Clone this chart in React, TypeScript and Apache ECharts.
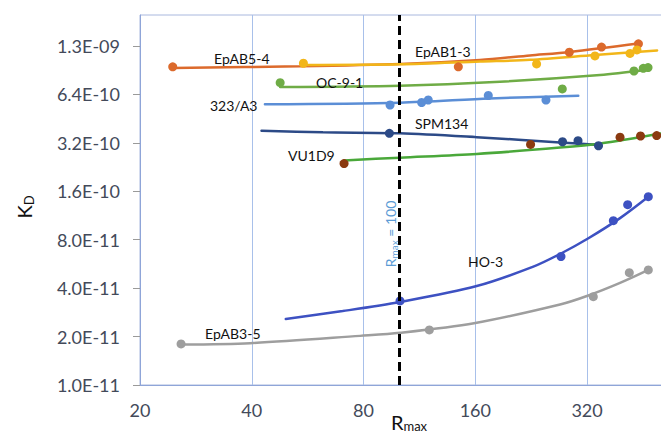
import React, { useEffect, useRef } from 'react';
import * as echarts from 'echarts';

// axis reference values (log base 2 axes)
const R_BASE = 20;
const K_BASE = 1e-11;
const xTickLabels = ['20', '40', '80', '160', '320'];
const yTickLabels = ['1.0E-11', '2.0E-11', '4.0E-11', '8.0E-11', '1.6E-10', '3.2E-10', '6.4E-10', '1.3E-09'];
const dashedR = 100;

// EpAB5-4
const epab54R = [24.5, 144, 286.6, 350, 440];
const epab54K = [9.5e-10, 9.5e-10, 1.17e-9, 1.26e-9, 1.32e-9];
const epab54FitR = [24.5, 53.9, 100.3, 164.7, 224.6, 287.8, 444];
const epab54FitK = [9.34e-10, 9.57e-10, 9.89e-10, 1.048e-9, 1.118e-9, 1.175e-9, 1.33e-9];
// EpAB1-3
const epab13R = [55.1, 234, 336, 417.6, 436];
const epab13K = [1.0e-9, 9.9e-10, 1.11e-9, 1.15e-9, 1.21e-9];
const epab13FitR = [55.0, 100.3, 164.7, 224.6, 336, 494];
const epab13FitK = [9.75e-10, 9.85e-10, 1.025e-9, 1.05e-9, 1.125e-9, 1.2e-9];
// OC-9-1
const oc91R = [47.7, 274.4, 428, 453.4, 467];
const oc91K = [7.57e-10, 6.92e-10, 8.95e-10, 9.3e-10, 9.4e-10];
const oc91FitR = [47.7, 100.3, 186.5, 346.8, 458];
const oc91FitK = [7.12e-10, 7.25e-10, 7.68e-10, 8.45e-10, 9.08e-10];
// 323/A3
const a3R = [94.3, 114.7, 119.5, 173.4, 248];
const a3K = [5.5e-10, 5.7e-10, 5.91e-10, 6.3e-10, 5.91e-10];
const a3FitR = [43.4, 100.3, 175, 303];
const a3FitK = [5.56e-10, 5.69e-10, 6.04e-10, 6.28e-10];
// SPM134
const spmR = [93.9, 274.8, 302.5, 343.5];
const spmK = [3.67e-10, 3.25e-10, 3.3e-10, 3.07e-10];
const spmFitR = [42.5, 62.2, 100.3, 161.4, 270.6, 346.8];
const spmFitK = [3.81e-10, 3.72e-10, 3.67e-10, 3.47e-10, 3.22e-10, 3.1e-10];
// VU1D9
const vuR = [70.9, 225.4, 392.6, 445.8, 492.8];
const vuK = [2.38e-10, 3.13e-10, 3.47e-10, 3.53e-10, 3.55e-10];
const vuFitR = [70.9, 100.3, 161.4, 270.6, 346.8, 506];
const vuFitK = [2.49e-10, 2.59e-10, 2.73e-10, 2.99e-10, 3.17e-10, 3.66e-10];
// HO-3
const hoR = [100.3, 272.2, 376.6, 411.6, 467.8];
const hoK = [3.33e-11, 6.29e-11, 1.05e-10, 1.32e-10, 1.48e-10];
const hoFitR = [49.4, 70.3, 100.3, 161.4, 229.3, 270.6, 321.8, 392.6, 467.8];
const hoFitK = [2.57e-11, 2.88e-11, 3.28e-11, 4.12e-11, 5.44e-11, 6.52e-11, 8.14e-11, 1.09e-10, 1.48e-10];
// EpAB3-5
const ep35R = [25.8, 120.3, 332.6, 415.8, 467.8];
const ep35K = [1.8e-11, 2.2e-11, 3.54e-11, 4.99e-11, 5.19e-11];
const ep35FitR = [25.8, 39.6, 78.3, 100.3, 158.7, 270.6, 322.5, 392.6, 467.8];
const ep35FitK = [1.785e-11, 1.82e-11, 2.02e-11, 2.11e-11, 2.42e-11, 3.165e-11, 3.6e-11, 4.31e-11, 5.19e-11];

const groups = [
  { name: 'EpAB5-4', point: '#dc6a2c', line: '#dc6a2c', R: epab54R, K: epab54K, fR: epab54FitR, fK: epab54FitK },
  { name: 'EpAB1-3', point: '#f2b619', line: '#f2b619', R: epab13R, K: epab13K, fR: epab13FitR, fK: epab13FitK },
  { name: 'OC-9-1', point: '#6fac46', line: '#6fac46', R: oc91R, K: oc91K, fR: oc91FitR, fK: oc91FitK },
  { name: '323/A3', point: '#5b8ed6', line: '#5b8ed6', R: a3R, K: a3K, fR: a3FitR, fK: a3FitK },
  { name: 'SPM134', point: '#2c4a87', line: '#2c4a87', R: spmR, K: spmK, fR: spmFitR, fK: spmFitK },
  { name: 'VU1D9', point: '#8b3a10', line: '#4aa83a', R: vuR, K: vuK, fR: vuFitR, fK: vuFitK },
  { name: 'HO-3', point: '#3d51c2', line: '#3d51c2', R: hoR, K: hoK, fR: hoFitR, fK: hoFitK },
  { name: 'EpAB3-5', point: '#9e9e9e', line: '#9e9e9e', R: ep35R, K: ep35K, fR: ep35FitR, fK: ep35FitK },
];

const tx = (r: number) => Math.log2(r / R_BASE);
const ty = (k: number) => Math.log2(k / K_BASE);

const FONT = 'Lato';

const labelPos: Record<string, [number, number]> = {
  'EpAB5-4': [214, 58],
  'EpAB1-3': [415, 51],
  'OC-9-1': [316, 82],
  '323/A3': [210, 105],
  'SPM134': [415, 123],
  'VU1D9': [288, 155],
  'HO-3': [468, 261],
  'EpAB3-5': [205, 333],
};

export default function App() {
  const ref = useRef<HTMLDivElement>(null);
  useEffect(() => {
    const chart = echarts.init(ref.current!, null, { renderer: 'svg' });
    const series: any[] = [];
    groups.forEach((g) => {
      series.push({
        type: 'line',
        name: g.name + ' fit',
        data: g.fR.map((r, i) => [tx(r), ty(g.fK[i])]),
        smooth: 0.3,
        showSymbol: false,
        symbol: 'none',
        lineStyle: { color: g.line, width: 2.5, cap: 'round' },
        z: 2,
        silent: true,
      });
      series.push({
        type: 'scatter',
        name: g.name,
        data: g.R.map((r, i) => [tx(r), ty(g.K[i])]),
        symbolSize: 9,
        itemStyle: { color: g.point, opacity: 1 },
        z: 3,
        silent: true,
      });
    });
    series.push({
      type: 'line',
      name: 'Rmax100',
      data: [],
      z: 5,
      markLine: {
        silent: true,
        symbol: 'none',
        label: { show: false },
        lineStyle: { color: '#000', width: 3, type: [9, 5] },
        data: [{ xAxis: tx(dashedR) }],
      },
    });

    const graphics: any[] = groups.map((g) => ({
      type: 'text',
      x: labelPos[g.name][0],
      y: labelPos[g.name][1],
      z: 10,
      style: { text: g.name, fill: '#111', font: `14px ${FONT}`, align: 'left', verticalAlign: 'middle' },
    }));
    graphics.push({
      type: 'text',
      x: 390,
      y: 234,
      rotation: Math.PI / 2,
      z: 10,
      style: {
        text: '{a|R}{b|max}{a| = 100}',
        align: 'center',
        verticalAlign: 'middle',
        rich: {
          a: { fontSize: 14, fontFamily: FONT, fill: '#5b9bd5', lineHeight: 18 },
          b: { fontSize: 10, fontFamily: FONT, fill: '#5b9bd5', lineHeight: 11, verticalAlign: 'bottom' },
        },
      },
    });
    graphics.push({
      type: 'text',
      x: 24,
      y: 207,
      rotation: Math.PI / 2,
      style: {
        text: '{a|K}{b|D}',
        align: 'center',
        verticalAlign: 'middle',
        rich: {
          a: { fontSize: 20, fontFamily: FONT, fill: '#111', lineHeight: 22 },
          b: { fontSize: 13, fontFamily: FONT, fill: '#111', lineHeight: 14, verticalAlign: 'bottom' },
        },
      },
    });
    graphics.push({
      type: 'text',
      x: 409,
      y: 422,
      style: {
        text: '{a|R}{b|max}',
        align: 'center',
        verticalAlign: 'middle',
        rich: {
          a: { fontSize: 20, fontFamily: FONT, fill: '#111', lineHeight: 20 },
          b: { fontSize: 13, fontFamily: FONT, fill: '#111', lineHeight: 13, verticalAlign: 'bottom' },
        },
      },
    });

    const xMax = (661 + 10 - 140) / 111.77;
    const yMax = 370 / 48.43;

    chart.setOption({
      animation: false,
      backgroundColor: '#fff',
      textStyle: { fontFamily: FONT },
      grid: {
        left: 140,
        top: 15,
        right: -10,
        bottom: 50,
        show: true,
        borderColor: '#a9b8de',
        borderWidth: 1,
        outerBoundsMode: 'none',
        containLabel: false,
      },
      xAxis: {
        type: 'value',
        min: 0,
        max: xMax,
        interval: 1,
        axisLine: { show: true, lineStyle: { color: '#8fa5d8', width: 1 } },
        axisTick: { show: false },
        splitLine: { show: true, lineStyle: { color: '#a8c0ea', width: 1 } },
        axisLabel: {
          show: true,
          margin: 16,
          fontSize: 18,
          fontFamily: FONT,
          color: '#434a5a',
          showMaxLabel: false,
          formatter: (v: number) => (Math.abs(v - Math.round(v)) < 1e-6 ? xTickLabels[Math.round(v)] ?? '' : ''),
        },
      },
      yAxis: {
        type: 'value',
        min: 0,
        max: yMax,
        interval: 1,
        axisLine: { show: true, lineStyle: { color: '#8fa5d8', width: 1 } },
        axisTick: {
          show: true,
          length: 7,
          lineStyle: { color: '#9a9a9a' },
          customValues: [0, 1, 2, 3, 4, 5, 6, 7],
        },
        splitLine: { show: false },
        axisLabel: {
          show: true,
          margin: 20,
          fontSize: 18,
          fontFamily: FONT,
          color: '#434a5a',
          customValues: [0, 1, 2, 3, 4, 5, 6, 7],
          formatter: (v: number) => (Math.abs(v - Math.round(v)) < 1e-6 ? yTickLabels[Math.round(v)] ?? '' : ''),
        },
      },
      series,
      graphic: graphics,
    });
    return () => chart.dispose();
  }, []);
  return <div ref={ref} style={{ position: 'absolute', left: 0, top: 0, width: 661, height: 435 }} />;
}
